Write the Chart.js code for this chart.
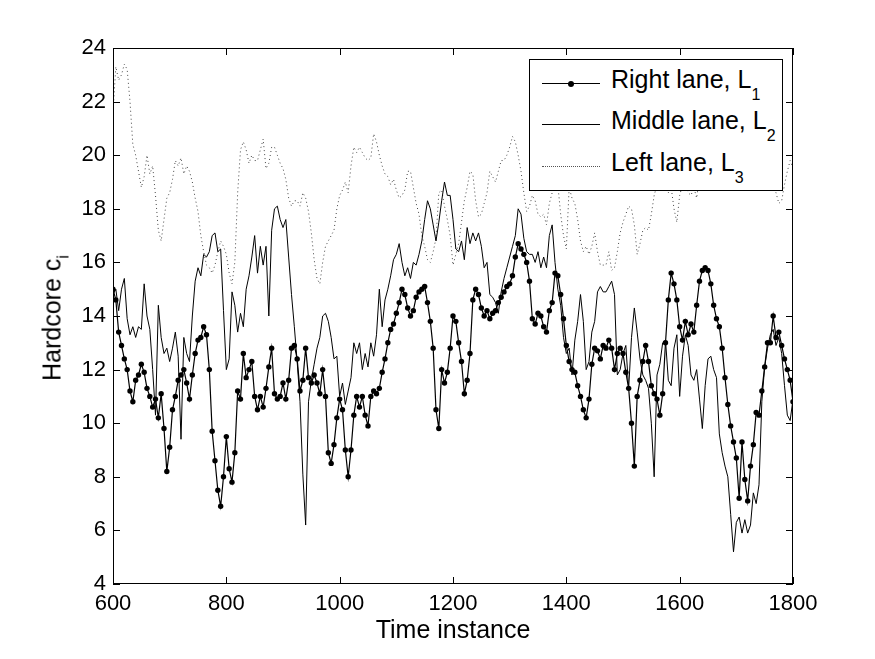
<!DOCTYPE html>
<html lang="en">
<head>
<meta charset="UTF-8">
<title>Hardcore per lane</title>
<script src="https://cdn.jsdelivr.net/npm/chart.js"></script>
<style>
  body { margin: 0; background: #fff; font-family: "Liberation Sans", Arial, sans-serif; color: #000; }
  #wrap { position: relative; width: 875px; height: 659px; }
  #ytitle {
    position: absolute; left: 52px; top: 318px;
    transform: translate(-50%, -50%) rotate(-90deg);
    font-size: 25px; white-space: nowrap;
  }
  #legend {
    position: absolute; left: 529px; top: 59px; width: 254px; height: 132px;
    box-sizing: border-box; border: 1px solid #000; background: #fff;
  }
  .sample { position: absolute; left: 12px; width: 58px; height: 0; border-top: 1px solid #000; }
  .sample.marker::after {
    content: ''; position: absolute; left: 26px; top: -3.5px;
    width: 6px; height: 6px; border-radius: 50%; background: #000;
  }
  .sample.dotted { border-top: 1px dotted #555; }
  .label { position: absolute; left: 81px; line-height: 40px; font-size: 25px; white-space: nowrap; }
  .sub { font-size: 16px; position: relative; top: 12px; }
</style>
</head>
<body>
<div id="wrap">
  <canvas id="hardcoreChart" width="875" height="659"></canvas>
  <div id="ytitle">Hardcore c<span class="sub" style="top:8px">i</span></div>
  <div id="legend">
    <div class="sample marker" style="top:23px"></div>
    <div class="label" style="top:-1px">Right lane, L<span class="sub">1</span></div>
    <div class="sample" style="top:64px"></div>
    <div class="label" style="top:40px">Middle lane, L<span class="sub">2</span></div>
    <div class="sample dotted" style="top:106px"></div>
    <div class="label" style="top:82px">Left lane, L<span class="sub">3</span></div>
  </div>
</div>

<script>
  // time instances 600..1800, sampled every 5
  const times = Array.from({ length: 241 }, (_, i) => 600 + 5 * i);

  const rightLane = [
    15.0, 14.6, 13.4, 12.9, 12.4, 12.0, 11.2, 10.8, 11.6, 11.8,
    12.2, 11.9, 11.3, 11.0, 10.6, 10.9, 10.2, 11.1, 9.8, 8.2,
    9.1, 10.5, 11.0, 11.6, 11.8, 12.0, 11.5, 10.9, 11.8, 12.6,
    13.1, 13.2, 13.6, 13.3, 12.0, 9.7, 8.6, 7.5, 6.9, 8.0,
    9.5, 8.3, 7.8, 8.9, 11.2, 10.9, 12.6, 11.7, 12.0, 12.3,
    11.0, 10.5, 11.0, 10.6, 11.3, 12.1, 12.8, 11.1, 10.9, 11.0,
    11.5, 10.9, 11.6, 12.8, 12.9, 12.4, 11.2, 11.6, 12.8, 11.7,
    11.5, 11.8, 11.5, 11.1, 12.0, 11.0, 8.9, 8.5, 9.2, 10.2,
    10.9, 10.5, 9.0, 8.0, 9.0, 10.3, 11.0, 10.6, 11.0, 10.3,
    9.9, 11.0, 11.2, 11.1, 11.3, 11.9, 12.4, 13.0, 13.5, 13.7,
    14.1, 14.5, 15.0, 14.8, 14.3, 14.0, 14.2, 14.7, 14.9, 15.0,
    15.1, 14.5, 13.8, 12.8, 10.5, 9.8, 12.0, 11.5, 11.9, 12.8,
    14.0, 13.8, 13.0, 12.3, 11.1, 11.6, 12.6, 14.6, 15.0, 14.8,
    14.3, 14.0, 14.2, 13.9, 14.1, 14.2, 14.5, 14.7, 14.9, 15.1,
    15.2, 15.5, 16.2, 16.7, 16.5, 16.3, 16.0, 15.3, 13.9, 13.7,
    14.1, 14.0, 13.6, 13.4, 14.2, 14.5, 15.6, 15.5, 14.8, 13.9,
    12.9, 12.3, 12.0, 11.9, 11.4, 11.0, 10.5, 10.2, 10.9, 12.2,
    12.8, 12.7, 12.4, 12.9, 12.8, 13.1, 12.8, 12.0, 12.6, 12.8,
    12.6, 11.9, 11.3, 10.0, 8.4, 11.0, 11.6, 12.3, 12.9, 12.3,
    11.4, 11.1, 10.9, 10.3, 11.1, 13.0, 14.6, 15.6, 15.2, 14.6,
    13.6, 13.1, 13.8, 13.3, 13.7, 13.4, 14.4, 15.3, 15.7, 15.8,
    15.7, 15.2, 14.4, 13.9, 13.6, 12.8, 11.7, 10.7, 9.9, 9.3,
    8.7, 7.2, 9.3, 7.9, 7.1, 8.4, 9.2, 10.4, 10.3, 11.2,
    12.1, 13.0, 13.0, 14.0, 13.2, 13.4, 12.9, 12.4, 12.0, 11.6,
    10.8
  ];

  const middleLane = [
    14.8, 15.0, 14.2, 15.0, 15.4, 13.9, 13.3, 13.6, 13.2, 13.6,
    13.5, 15.2, 14.0, 13.5, 12.0, 10.3, 14.4, 13.2, 12.6, 12.8,
    12.3, 12.8, 13.4, 12.5, 9.4, 13.2, 12.6, 12.3, 14.0, 15.3,
    15.8, 15.5, 16.3, 16.2, 16.4, 17.0, 17.1, 16.4, 16.5, 14.2,
    12.0, 12.4, 14.9, 14.4, 13.4, 14.1, 13.6, 15.0, 15.5, 16.2,
    17.0, 15.6, 16.6, 15.9, 16.6, 14.0, 17.2, 18.0, 18.1, 17.6,
    17.3, 17.6, 16.2, 14.8, 13.6, 12.3, 10.8, 8.1, 6.2, 10.8,
    11.6, 12.2, 12.8, 13.2, 14.0, 14.1, 13.8, 13.2, 12.4, 12.5,
    11.0, 11.5, 10.7, 11.2, 11.7, 13.0, 12.6, 13.0, 12.0, 12.6,
    12.1, 13.0, 12.5, 13.3, 15.0, 13.6, 14.6, 15.0, 15.5, 16.1,
    16.3, 16.7, 16.0, 15.5, 15.8, 15.4, 16.0, 15.9, 16.3, 16.8,
    17.6, 18.3, 18.0, 17.4, 16.8, 17.5, 18.3, 19.0, 18.5, 18.5,
    17.6, 16.5, 16.4, 16.8, 16.1, 17.3, 16.7, 17.1, 16.8, 17.1,
    16.6, 15.8, 16.0, 14.8, 14.7, 14.5, 14.1, 14.9, 15.4, 15.8,
    16.2, 16.6, 17.0, 18.0, 17.8, 16.9, 16.4, 16.3, 16.3, 16.0,
    16.4, 15.8, 16.2, 15.8, 17.0, 17.4, 16.0, 15.0, 14.4, 13.2,
    12.6, 12.8, 11.8, 13.1, 13.8, 14.8, 13.8, 12.0, 12.3, 13.4,
    13.8, 14.9, 15.1, 14.9, 14.9, 15.1, 15.3, 14.8, 11.8, 12.0,
    12.6, 12.9, 11.3, 13.2, 14.3, 13.4, 12.4, 11.8, 11.6, 11.3,
    10.0, 8.0, 11.8, 12.2, 13.0, 13.1, 11.6, 11.4, 12.8, 13.3,
    11.0, 12.5, 13.3, 12.9, 11.8, 11.6, 12.0, 10.9, 9.8, 11.4,
    12.4, 12.5, 12.0, 11.7, 9.6, 8.9, 8.4, 8.0, 6.6, 5.2,
    6.3, 6.5, 5.9, 6.4, 5.9, 6.2, 7.4, 7.0, 7.7, 10.8,
    12.1, 12.8, 13.3, 13.5, 12.9, 13.2, 12.6, 11.4, 10.3, 10.1,
    10.9
  ];

  const leftLane = [
    21.6, 23.3, 22.8, 23.0, 23.4, 23.2, 22.0, 20.4, 20.0, 19.4,
    18.8, 19.2, 20.0, 19.3, 19.6, 18.5, 17.2, 16.8, 17.6, 18.4,
    18.6, 19.1, 19.8, 19.6, 19.9, 19.3, 19.6, 19.4, 19.0, 18.4,
    17.9, 17.0, 16.4, 15.9, 15.8, 15.6, 15.9, 16.4, 16.8, 16.6,
    16.3, 15.6, 15.2, 16.0, 18.6, 20.2, 20.5, 20.2, 19.7, 20.0,
    19.8, 19.8, 20.2, 20.6, 19.5, 19.7, 20.3, 20.3, 20.0, 19.7,
    19.5, 19.1, 18.4, 18.1, 18.3, 18.3, 18.1, 18.6, 18.4, 17.9,
    17.1, 16.1, 15.4, 15.2, 16.0, 16.6, 16.8, 17.0, 17.2, 18.0,
    18.5, 18.7, 19.0, 18.6, 19.6, 20.3, 20.1, 20.3, 20.1, 19.9,
    19.8, 19.9, 20.8, 20.5, 20.0, 19.6, 19.3, 19.2, 18.9, 19.1,
    18.7, 18.4, 18.5, 18.7, 19.4, 19.4, 18.8, 18.2, 17.8, 17.0,
    16.6, 16.1, 16.0, 16.4, 16.9, 18.6, 18.7, 18.1, 17.6, 17.0,
    15.9, 16.3, 16.7, 17.5, 18.3, 18.8, 19.4, 19.3, 18.3, 17.7,
    17.8, 18.2, 18.6, 19.4, 19.2, 19.0, 19.4, 19.8, 19.8, 20.0,
    20.3, 20.7, 20.5, 20.0, 19.4, 18.6, 17.9, 18.1, 18.5, 18.3,
    17.8, 17.7, 17.8, 17.4, 18.2, 18.6, 18.7, 18.9, 17.8, 17.0,
    16.5, 18.8, 18.4, 18.2, 17.6, 16.8, 16.4, 16.6, 16.3, 16.6,
    17.1, 16.4, 15.9, 15.9, 15.9, 16.4, 15.7, 15.8, 16.4, 17.1,
    17.5, 17.8, 18.1, 18.0, 17.4, 16.3, 16.7, 17.2, 17.3, 17.2,
    17.8, 18.5, 18.9, 19.3, 19.2, 18.8, 18.6, 18.8, 18.0, 17.5,
    18.5, 18.9, 19.0, 18.6, 18.5, 18.8, 18.4, 19.2, 19.6, 19.9,
    20.1, 19.7, 19.4, 19.8, 20.2, 20.4, 20.0, 19.6, 19.3, 19.5,
    19.9, 20.3, 20.1, 19.8, 19.6, 19.4, 19.8, 20.0, 19.7, 19.5,
    19.2, 19.4, 19.0, 18.8, 18.6, 18.2, 18.3, 18.9, 19.4, 19.8,
    19.5
  ];

  const xTicks = { min: 600, max: 1800, step: 200 };
  const yTicks = { min: 4, max: 24, step: 2 };

  const toPoints = vals => times.map((t, i) => ({ x: t, y: vals[i] }));

  // box around the axes with inward ticks on all four sides
  const framePlugin = {
    id: 'frame',
    afterDatasetsDraw(chart) {
      const { ctx, chartArea: a, scales } = chart;
      const len = 7;
      ctx.save();
      ctx.strokeStyle = '#000';
      ctx.lineWidth = 1;
      ctx.strokeRect(Math.round(a.left) + 0.5, Math.round(a.top) + 0.5,
                     Math.round(a.width) - 1, Math.round(a.height) - 1);
      ctx.beginPath();
      scales.x.ticks.forEach(t => {
        const px = Math.round(scales.x.getPixelForValue(t.value)) + 0.5;
        ctx.moveTo(px, a.bottom); ctx.lineTo(px, a.bottom - len);
        ctx.moveTo(px, a.top); ctx.lineTo(px, a.top + len);
      });
      scales.y.ticks.forEach(t => {
        const py = Math.round(scales.y.getPixelForValue(t.value)) + 0.5;
        ctx.moveTo(a.left, py); ctx.lineTo(a.left + len, py);
        ctx.moveTo(a.right, py); ctx.lineTo(a.right - len, py);
      });
      ctx.stroke();
      ctx.restore();
    }
  };

  const fontFamily = '"Liberation Sans", Arial, sans-serif';
  const tickFont = { family: fontFamily, size: 22 };

  new Chart(document.getElementById('hardcoreChart'), {
    type: 'line',
    data: {
      datasets: [
        {
          label: 'Right lane, L1',
          data: toPoints(rightLane),
          borderColor: '#000',
          borderWidth: 1.2,
          pointRadius: 2.7,
          pointBackgroundColor: '#000',
          pointBorderWidth: 0,
          tension: 0
        },
        {
          label: 'Middle lane, L2',
          data: toPoints(middleLane),
          borderColor: '#000',
          borderWidth: 1,
          pointRadius: 0,
          tension: 0
        },
        {
          label: 'Left lane, L3',
          data: toPoints(leftLane),
          borderColor: '#444',
          borderWidth: 1,
          borderDash: [1, 3],
          pointRadius: 0,
          tension: 0
        }
      ]
    },
    options: {
      responsive: false,
      animation: false,
      layout: { padding: { left: 0, right: 82, top: 48, bottom: 0 } },
      plugins: {
        legend: { display: false },
        tooltip: { enabled: false }
      },
      scales: {
        x: {
          type: 'linear',
          min: xTicks.min,
          max: xTicks.max,
          ticks: {
            stepSize: xTicks.step, color: '#000', font: tickFont, padding: 7, maxRotation: 0,
            callback: v => String(v)
          },
          grid: { display: false, drawTicks: false },
          border: { display: false },
          title: {
            display: true,
            text: 'Time instance',
            color: '#000',
            font: { family: fontFamily, size: 25 },
            padding: { top: 0, bottom: 13 }
          },
          afterFit(scale) { scale.height = 75; }
        },
        y: {
          min: yTicks.min,
          max: yTicks.max,
          ticks: { stepSize: yTicks.step, color: '#000', font: tickFont, padding: 7 },
          grid: { display: false, drawTicks: false },
          border: { display: false },
          afterFit(scale) { scale.width = 113; }
        }
      }
    },
    plugins: [framePlugin]
  });
</script>
</body>
</html>
